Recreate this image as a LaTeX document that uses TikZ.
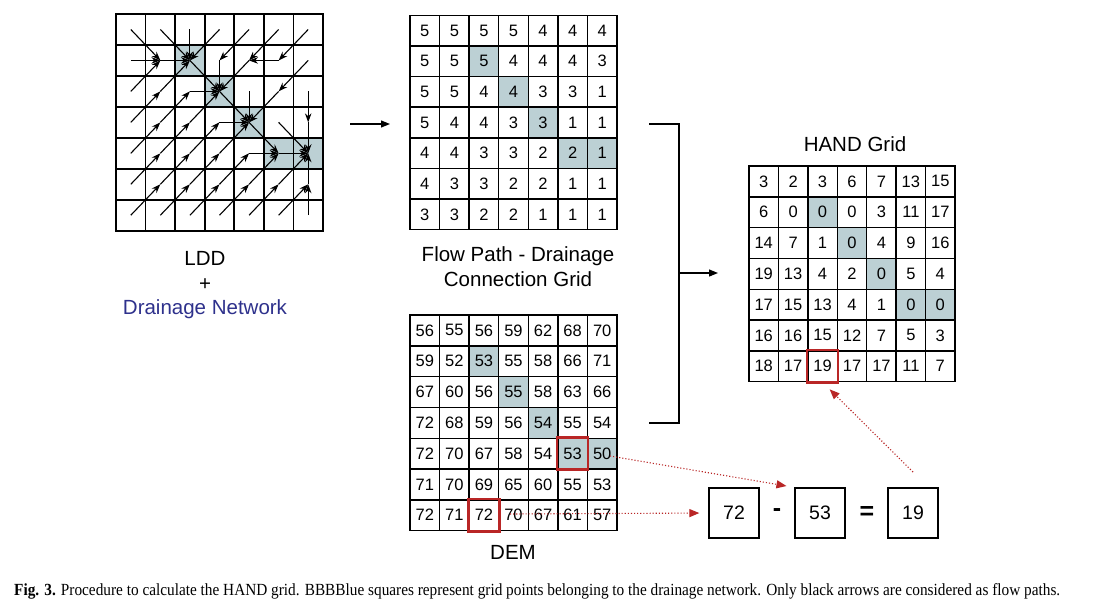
\documentclass[tikz,border=0pt]{standalone}
\usepackage{fontspec}
\setmainfont{Liberation Sans}
\newfontfamily\capfont{Liberation Serif}
\usetikzlibrary{arrows.meta,backgrounds,calc}
\definecolor{shadecol}{RGB}{188,208,212}
\definecolor{redcol}{RGB}{185,38,38}
\definecolor{dnblue}{RGB}{46,49,140}
\newcommand\numgrid[6]{%
  \foreach \rowvals [count=\r] in {#6} {
    \foreach \v [count=\c] in \rowvals {
      \node[cell, minimum width=#4pt, minimum height=#5pt] (#1-\r-\c) at ({#2+(\c-0.5)*#4},{#3+(\r-0.5)*#5}) {\v};
    }
  }
}
\begin{document}
\begin{tikzpicture}[x=1pt,y=-1pt,
  cell/.style={draw, line width=1.4pt, inner sep=0pt, font=\fontsize{16.5}{16.5}\selectfont},
  lddcell/.style={draw, line width=1.8pt, inner sep=0pt},
  lddarrow/.style={line width=1.1pt, -{Stealth[length=9pt,width=6.5pt]}},
  lbl/.style={font=\fontsize{20.5}{24}\selectfont, anchor=base, inner sep=0pt},
  flowarrow/.style={line width=1.2pt, -{Triangle[length=9pt,width=7pt]}},
  redarrow/.style={redcol, dotted, line width=1.1pt, -{Triangle[length=10pt,width=8pt]}},
  redbox/.style={draw=redcol, line width=2.6pt},
  eqbox/.style={draw, line width=1.3pt, minimum width=50pt, minimum height=50pt, inner sep=0pt, font=\fontsize{19.5}{19.5}\selectfont},
  eqsign/.style={inner sep=0pt, font=\fontsize{25}{25}\selectfont\bfseries}
]
\useasboundingbox (0,0) rectangle (1093,608);

% ---------- LDD grid ----------
\foreach \r in {1,...,7}{
  \foreach \c in {1,...,7}{
    \node[lddcell, minimum width=29.57pt, minimum height=30.96pt] (L-\r-\c) at ({116+(\c-0.5)*29.57},{14+(\r-0.5)*30.96}) {};
  }
}
\foreach \r/\c/\dr/\dc in {
  1/1/1/1, 1/2/1/1, 1/3/1/0, 1/4/1/-1, 1/5/1/-1, 1/6/1/-1, 1/7/1/-1,
  2/1/0/1, 2/2/0/1, 2/3/1/1, 2/4/1/0, 2/5/1/-1, 2/6/0/-1, 2/7/1/-1,
  3/1/-1/1, 3/2/-1/1, 3/3/0/1, 3/4/1/1, 3/5/1/0, 3/6/1/-1, 3/7/1/0,
  4/1/-1/1, 4/2/-1/1, 4/3/-1/1, 4/4/0/1, 4/5/1/1, 4/6/1/1, 4/7/1/0,
  5/1/-1/1, 5/2/-1/1, 5/3/-1/1, 5/4/-1/1, 5/5/0/1, 5/6/0/1,
  6/1/-1/1, 6/2/-1/1, 6/3/-1/1, 6/4/-1/1, 6/5/-1/1, 6/6/-1/1, 6/7/-1/0,
  7/1/-1/1, 7/2/-1/1, 7/3/-1/1, 7/4/-1/1, 7/5/-1/1, 7/6/-1/1, 7/7/-1/0}{
  \pgfmathtruncatemacro\rr{\r+\dr}
  \pgfmathtruncatemacro\cc{\c+\dc}
  \draw[lddarrow] (L-\r-\c.center) -- (L-\rr-\cc.center);
}

% ---------- Flow path grid ----------
\numgrid{F}{410}{15.3}{29.57}{30.63}{{5,5,5,5,4,4,4},{5,5,5,4,4,4,3},{5,5,4,4,3,3,1},{5,4,4,3,3,1,1},{4,4,3,3,2,2,1},{4,3,3,2,2,1,1},{3,3,2,2,1,1,1}}

% ---------- DEM grid ----------
\numgrid{D}{410}{315}{29.57}{30.8}{{56,55,56,59,62,68,70},{59,52,53,55,58,66,71},{67,60,56,55,58,63,66},{72,68,59,56,54,55,54},{72,70,67,58,54,53,50},{71,70,69,65,60,55,53},{72,71,72,70,67,61,57}}

% ---------- HAND grid ----------
\numgrid{H}{749}{166}{29.43}{30.8}{{3,2,3,6,7,13,15},{6,0,0,0,3,11,17},{14,7,1,0,4,9,16},{19,13,4,2,0,5,4},{17,15,13,4,1,0,0},{16,16,15,12,7,5,3},{18,17,19,17,17,11,7}}

% ---------- shading (background) ----------
\begin{scope}[on background layer]
  \fill[white] (0,0) rectangle (1093,608);
  \foreach \g in {L,F,D,H}{
    \foreach \r/\c in {2/3,3/4,4/5,5/6,5/7}{
      \fill[shadecol] (\g-\r-\c.north west) rectangle (\g-\r-\c.south east);
    }
  }
\end{scope}

% ---------- red boxes ----------
\draw[redbox] (D-5-6.north west) rectangle (D-5-6.south east);
\draw[redbox] (D-7-3.north west) rectangle (D-7-3.south east);
\draw[redbox] (H-7-3.north west) rectangle (H-7-3.south east);

% ---------- labels ----------
\node[lbl] (ldd) at (205,265.5) {LDD};
\node[lbl] (plus) at (205,290) {+};
\node[lbl, text=dnblue] (dn) at (205,314.5) {Drainage Network};
\node[lbl] (fp1) at (518,261.5) {Flow Path - Drainage};
\node[lbl] (fp2) at (518,286) {Connection Grid};
\node[lbl] (dem) at (513,559.5) {DEM};
\node[lbl] (hand) at (855,151.5) {HAND Grid};

% ---------- arrows & bracket ----------
\coordinate (a1s) at (350,124);
\coordinate (a1e) at (390,124);
\draw[flowarrow] (a1s) -- (a1e);
\coordinate (bt) at (649,124);
\coordinate (bc1) at (679,124);
\coordinate (bc2) at (679,423);
\coordinate (bb) at (649,423);
\draw[line width=1.2pt] (bt) -- (bc1) -- (bc2) -- (bb);
\coordinate (bm) at (679,273);
\coordinate (be) at (718,273);
\draw[flowarrow] (bm) -- (be);

% ---------- equation ----------
\node[eqbox] (eq1) at (734,513) {72};
\node[eqsign] (minus) at (777,513) {-};
\node[eqbox] (eq2) at (820,513) {53};
\node[eqsign] (equals) at (867,513) {=};
\node[eqbox] (eq3) at (913,513) {19};

% ---------- red dotted arrows ----------
\coordinate (r1s) at (610,456);
\coordinate (r2s) at (510,514);
\coordinate (r3s) at (913,472);
\draw[redarrow, shorten >=8pt] (r1s) -- (eq2.north west);
\draw[redarrow, shorten >=9pt] (r2s) -- (eq1.west);
\draw[redarrow, shorten >=10pt] (r3s) -- (H-7-3.south);

% ---------- caption ----------
\node[anchor=base west, inner sep=0pt] (cap) at (14,595) {\resizebox{1046pt}{\height}{\capfont\fontsize{17}{19}\selectfont\textbf{Fig. 3.} Procedure to calculate the HAND grid. BBBBlue squares represent grid points belonging to the drainage network. Only black arrows are considered as flow paths.}};
\end{tikzpicture}
\end{document}
